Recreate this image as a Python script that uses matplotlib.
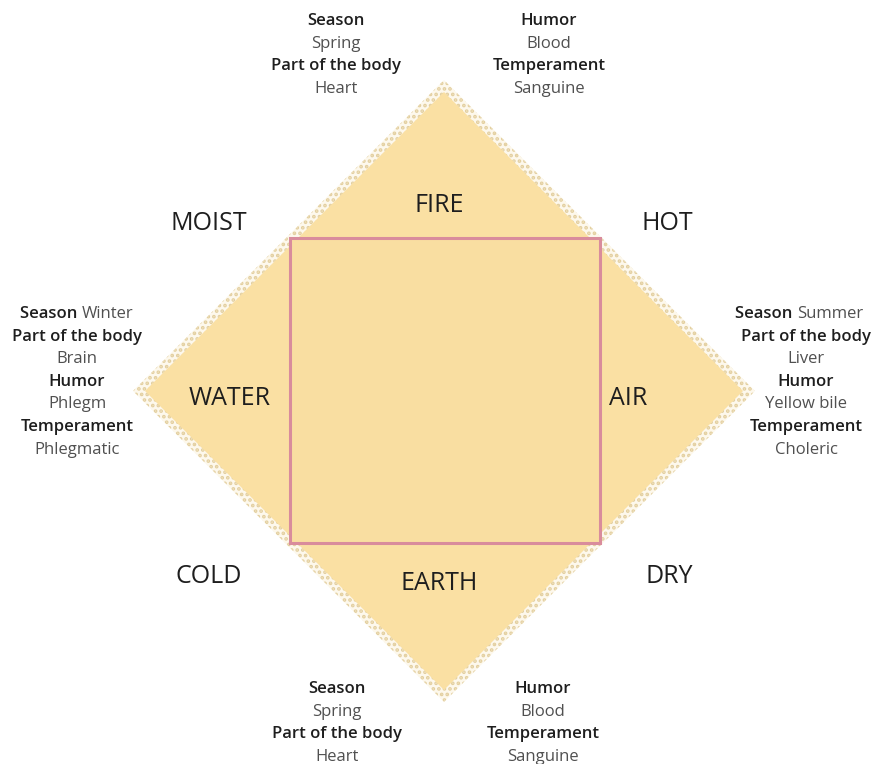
import matplotlib
matplotlib.use("Agg")
import matplotlib.pyplot as plt
from matplotlib.patches import Polygon, Rectangle

plt.rcParams['font.family'] = ['Open Sans', 'DejaVu Sans']
plt.rcParams['hatch.linewidth'] = 1.8

# ---- content ----
elements = ["FIRE", "WATER", "AIR", "EARTH"]
qualities = ["MOIST", "HOT", "COLD", "DRY"]

top_left = [("Season", True), ("Spring", False), ("Part of the body", True), ("Heart", False)]
top_right = [("Humor", True), ("Blood", False), ("Temperament", True), ("Sanguine", False)]
left_block = [(("Season", "Winter"), None), ("Part of the body", True), ("Brain", False),
              ("Humor", True), ("Phlegm", False), ("Temperament", True), ("Phlegmatic", False)]
right_block = [(("Season", "Summer"), None), ("Part of the body", True), ("Liver", False),
               ("Humor", True), ("Yellow bile", False), ("Temperament", True), ("Choleric", False)]
bottom_left = [("Season", True), ("Spring", False), ("Part of the body", True), ("Heart", False)]
bottom_right = [("Humor", True), ("Blood", False), ("Temperament", True), ("Sanguine", False)]

# ---- style ----
W, H = 875, 764
fill_col = "#FAE0A3"
inner_col = "#F9DEA1"
speck_col = "#E3CF9F"
pink = "#D98C9C"
dark = "#1E1E1E"
grey = "#505050"

fig = plt.figure(figsize=(W / 100, H / 100), dpi=100)
ax = fig.add_axes([0, 0, 1, 1])
ax.set_xlim(0, W)
ax.set_ylim(H, 0)
ax.axis("off")

cx, cy = 444, 391
R_out, R_in = 311, 299

def diamond(r):
    return [(cx, cy - r), (cx + r, cy), (cx, cy + r), (cx - r, cy)]

ax.add_patch(Polygon(diamond(R_out), closed=True, facecolor="#FDF8EC",
                     edgecolor=speck_col, hatch="...", linewidth=0))
ax.add_patch(Polygon(diamond(R_in), closed=True, facecolor=fill_col, edgecolor="none"))

sq_cx, sq_cy, sq_hw, sq_hh = 445, 390.5, 155, 152.5
ax.add_patch(Rectangle((sq_cx - sq_hw, sq_cy - sq_hh), 2 * sq_hw, 2 * sq_hh,
                       facecolor=inner_col, edgecolor=pink, linewidth=2.2))

big = 18
el_pos = {"FIRE": (439, 212), "WATER": (230, 405), "AIR": (628, 405), "EARTH": (439, 590)}
for e in elements:
    x, y = el_pos[e]
    ax.text(x, y, e, fontsize=big, color=dark, ha="center", va="baseline")

q_pos = {"MOIST": (209, 230), "HOT": (667, 230), "COLD": (209, 583), "DRY": (669, 583)}
for q in qualities:
    x, y = q_pos[q]
    ax.text(x, y, q, fontsize=big, color=dark, ha="center", va="baseline")

fs = 12
step = 22.6

def block(lines, x, y0):
    for i, (txt, bold) in enumerate(lines):
        y = y0 + i * step
        if bold is None:
            a, b = txt
            ax.text(x, y, a + " ", fontsize=fs, color=dark, ha="right", va="baseline",
                    fontweight="semibold")
            ax.text(x, y, b, fontsize=fs, color=grey, ha="left", va="baseline",
                    fontweight="normal")
        else:
            ax.text(x, y, txt, fontsize=fs, color=dark if bold else grey, ha="center",
                    va="baseline", fontweight="semibold" if bold else "normal")

block(top_left, 336, 25)
block(top_right, 549, 25)
block(bottom_left, 337, 693)
block(bottom_right, 543, 693)

def side_block(lines, x, y0, split_x):
    block(lines[:1], split_x, y0)
    block(lines[1:], x, y0 + step)

side_block(left_block, 77, 318, 82)
side_block(right_block, 806, 318, 797)

fig.savefig("out.png", dpi=100, facecolor="white")
